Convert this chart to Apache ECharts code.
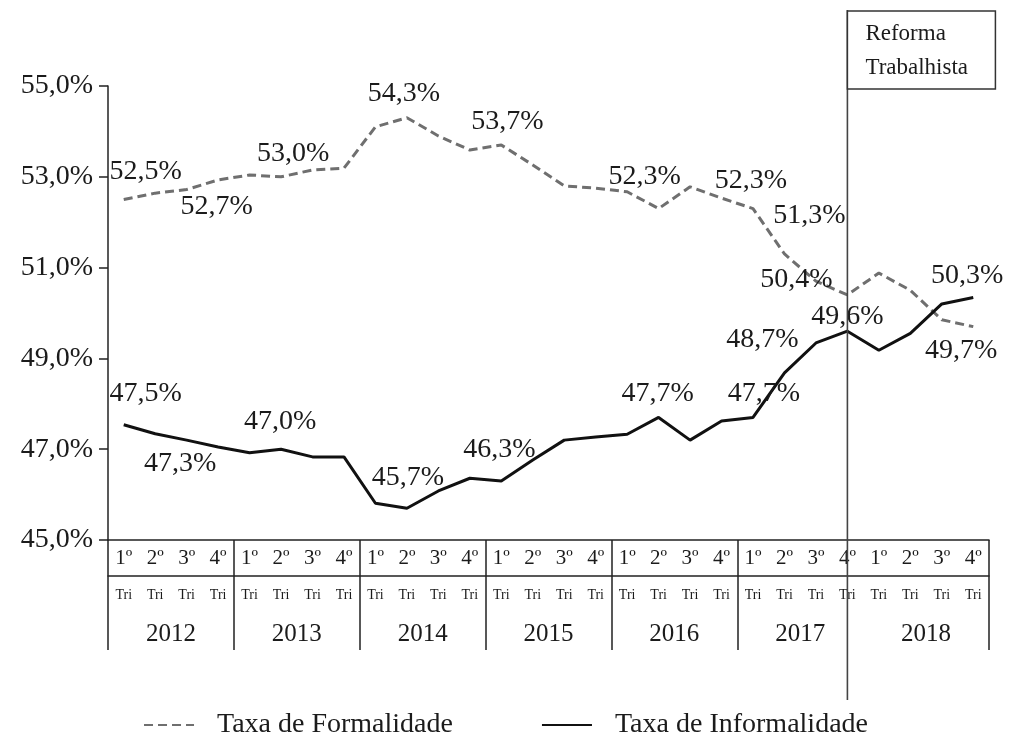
<!DOCTYPE html>
<html>
<head>
<meta charset="utf-8">
<script src="https://cdn.jsdelivr.net/npm/echarts@6/dist/echarts.min.js"></script>
<style>
  html, body { margin: 0; padding: 0; background: #fff; }
  #main { width: 1011px; height: 738px; }
</style>
</head>
<body>
<div id="main"></div>
<script>
var years = ['2012', '2013', '2014', '2015', '2016', '2017', '2018'];
var quarters = ['1º', '2º', '3º', '4º'];
var yTicks = [45, 47, 49, 51, 53, 55];

// Taxa de Formalidade / Informalidade, por trimestre (2012 1º ... 2018 4º)
var formal = [52.5, 52.64, 52.72, 52.93, 53.04, 53.0, 53.15, 53.19, 54.1, 54.3,
  53.9, 53.59, 53.7, 53.26, 52.8, 52.75, 52.67, 52.3, 52.78, 52.53,
  52.3, 51.3, 50.7, 50.4, 50.88, 50.5, 49.85, 49.7];
var informal = [47.54, 47.34, 47.2, 47.05, 46.92, 47.0, 46.83, 46.83, 45.81, 45.7,
  46.08, 46.36, 46.3, 46.76, 47.2, 47.27, 47.33, 47.7, 47.2, 47.62,
  47.7, 48.68, 49.34, 49.6, 49.18, 49.55, 50.2, 50.34];

var reformIndex = 23;

// onde ficam os rótulos (deslocamento em px em relação ao ponto)
var formalLabelPos = {0: [22, -28], 2: [30, 17], 5: [12, -23], 9: [-3, -24], 12: [6, -23],
  17: [-14, -32], 20: [-2, -28], 21: [25, -38], 23: [-51, -15], 27: [-12, 24]};
var informalLabelPos = {0: [22, -31], 1: [25, 30], 5: [-1, -28], 9: [1, -31], 12: [-2, -31],
  17: [-1, -24], 20: [11, -24], 21: [-22, -33], 23: [0, -15], 27: [-6, -22]};

var categories = [];
years.forEach(function (y) {
  quarters.forEach(function (q) { categories.push(q + ' ' + y); });
});

var FONT = 'Liberation Serif';
var INK = '#1b1b1b';

function fmt(v) { return v.toFixed(1).replace('.', ',') + '%'; }

function buildData(values, labelPos) {
  return values.map(function (v, i) {
    var pos = labelPos[i];
    if (!pos) return v;
    return {
      value: v,
      label: { show: true, position: 'inside', offset: pos }
    };
  });
}

var labelStyle = {
  show: false,
  color: INK,
  fontFamily: FONT,
  fontSize: 28,
  formatter: function (p) { return fmt(p.value); }
};

var myChart = echarts.init(document.getElementById('main'));

var option = {
  animation: false,
  backgroundColor: '#fff',
  grid: { left: 108, right: 22, top: 86, bottom: 198 },
  legend: {
    top: 706,
    left: 'center',
    itemWidth: 50,
    itemHeight: 14,
    itemGap: 88,
    textStyle: { fontFamily: FONT, fontSize: 28, color: INK, padding: [0, 0, 0, 18] },
    data: ['Taxa de Formalidade', 'Taxa de Informalidade']
  },
  xAxis: [
    {
      type: 'category',
      position: 'bottom',
      data: categories,
      boundaryGap: true,
      axisLine: { show: true, lineStyle: { color: '#222', width: 1.5 } },
      axisTick: { show: false },
      axisLabel: {
        interval: 0, margin: 8, color: INK, fontFamily: FONT, fontSize: 21,
        formatter: function (v) { return v.split(' ')[0]; }
      },
      splitLine: { show: false }
    },
    {
      type: 'category',
      position: 'bottom',
      offset: 36,
      data: categories,
      axisLine: { show: true, lineStyle: { color: '#222', width: 1.5 } },
      axisTick: { show: false },
      axisLabel: {
        interval: 0, margin: 12, color: INK, fontFamily: FONT, fontSize: 14,
        formatter: function () { return 'Tri'; }
      }
    },
    {
      type: 'category',
      position: 'bottom',
      data: years,
      axisLine: { show: false },
      axisTick: {
        show: true, length: 110,
        interval: function (i) { return i !== 6; },
        lineStyle: { color: '#222', width: 1.5 }
      },
      axisLabel: { interval: 0, margin: 82, color: INK, fontFamily: FONT, fontSize: 25 }
    }
  ],
  yAxis: {
    type: 'value',
    min: yTicks[0],
    max: yTicks[yTicks.length - 1],
    interval: yTicks[1] - yTicks[0],
    axisLine: { show: true, lineStyle: { color: '#222', width: 1.5 } },
    axisTick: { show: true, length: 9, lineStyle: { color: '#222', width: 1.5 } },
    axisLabel: {
      margin: 15, color: INK, fontFamily: FONT, fontSize: 28,
      formatter: function (v) { return v.toFixed(1).replace('.', ',') + '%'; }
    },
    splitLine: { show: false }
  },
  series: [
    {
      name: 'Taxa de Formalidade',
      type: 'line',
      data: buildData(formal, formalLabelPos),
      symbol: 'circle',
      symbolSize: 2,
      itemStyle: { color: 'rgba(0,0,0,0)' },
      lineStyle: { color: '#6f6f6f', width: 3, type: [9, 5] },
      label: labelStyle,
      z: 3
    },
    {
      name: 'Taxa de Informalidade',
      type: 'line',
      data: buildData(informal, informalLabelPos),
      symbol: 'circle',
      symbolSize: 2,
      itemStyle: { color: 'rgba(0,0,0,0)' },
      lineStyle: { color: '#111', width: 3 },
      label: labelStyle,
      z: 4
    }
  ]
};

myChart.setOption(option);

// linha da Reforma Trabalhista
var rx = myChart.convertToPixel({ xAxisIndex: 0 }, categories[reformIndex]);
myChart.setOption({
  graphic: [
    {
      type: 'line', z: 10,
      shape: { x1: rx, y1: 10, x2: rx, y2: 700 },
      style: { stroke: '#444', lineWidth: 1.6 }
    },
    {
      type: 'rect', z: 10,
      shape: { x: rx, y: 11, width: 148, height: 78 },
      style: { fill: '#fff', stroke: '#333', lineWidth: 1.5 }
    },
    {
      type: 'text', z: 11, left: rx + 18, top: 17,
      style: { text: 'Reforma\nTrabalhista', fill: INK, font: '23px "Liberation Serif"', lineHeight: 34 }
    }
  ]
});
</script>
</body>
</html>
